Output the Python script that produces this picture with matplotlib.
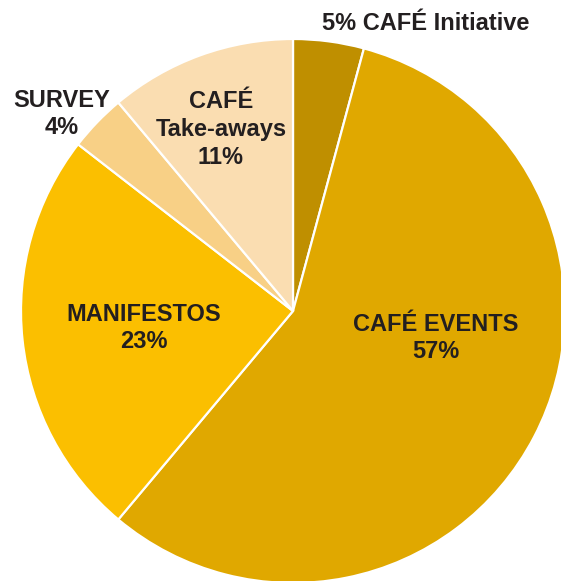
import matplotlib
matplotlib.use("Agg")
import matplotlib.pyplot as plt

categories = ["CAFÉ Initiative", "CAFÉ EVENTS", "MANIFESTOS", "SURVEY", "CAFÉ Take-aways"]
values = [4.2, 56.9, 24.4, 3.4, 11.1]
label_lines = [
    ["5% CAFÉ Initiative"],
    ["CAFÉ EVENTS", "57%"],
    ["MANIFESTOS", "23%"],
    ["SURVEY", "4%"],
    ["CAFÉ", "Take-aways", "11%"],
]
colors = ["#BF8F00", "#E0A800", "#FBBF00", "#F8D086", "#FADDB1"]

W, H = 561, 581
fig = plt.figure(figsize=(W / 100, H / 100), dpi=100)
ax = fig.add_axes([0, 0, 1, 1])
ax.set_xlim(0, W)
ax.set_ylim(0, H)
ax.set_aspect("equal")
ax.axis("off")

cx, cy, R = 293, H - 311, 272
wedges, _ = ax.pie(values, colors=colors, startangle=90, counterclock=False,
                   center=(cx, cy), radius=R,
                   wedgeprops=dict(edgecolor="white", linewidth=1.6))
ax.set_xlim(0, W)
ax.set_ylim(0, H)

# label positions (pixel centres x, first baseline y from top), line spacing
label_pos = [(426, 30), (436, 331), (144, 321), (62, 107), (221, 108.5)]
spacing = 27.5
for lines, (x, y) in zip(label_lines, label_pos):
    for i, t in enumerate(lines):
        ax.text(x, H - (y + i * spacing), t, ha="center", va="baseline",
                fontsize=17, fontweight="bold", color="#231F20",
                family=["Liberation Sans", "DejaVu Sans"])

fig.savefig("out.png", dpi=100)
